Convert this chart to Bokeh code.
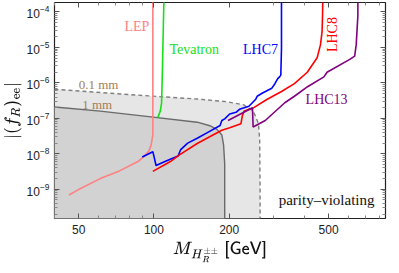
import numpy as np
from bokeh.plotting import figure
from bokeh.models import (Range1d, FixedTicker, LogTickFormatter, LogAxis,
                          CustomJSTickFormatter, Label, NumeralTickFormatter)
from bokeh.embed import file_html
from bokeh.resources import INLINE

# ---------------- data ----------------
x_ticks = [50, 100, 200, 500]
x_minor = [40, 60, 70, 80, 90, 300, 400, 600, 700, 800]
y_ticks = [1e-9, 1e-8, 1e-7, 1e-6, 1e-5, 1e-4]
y_minor = [m * 10.0 ** k for k in range(-10, -3) for m in range(2, 10)]

X_MIN, X_MAX = 40, 845
Y_MIN, Y_MAX = 1.5e-10, 1.85e-4

# decay length 0.1 mm boundary (dashed)
mm01_M = [40, 95.3, 149, 195, 229, 250, 262, 265, 266, 266]
mm01_f = [6.6e-7, 4.3e-7, 3.5e-7, 2.95e-7, 2.4e-7, 1.6e-7, 7.2e-8, 2.5e-8, 1e-9, 1.5e-10]
# decay length 1 mm boundary (solid)
mm1_M = [40, 61, 95.3, 149, 167.5, 178.6, 187, 190, 192, 192]
mm1_f = [2.1e-7, 1.6e-7, 1.12e-7, 7.8e-8, 6.2e-8, 4.9e-8, 3.4e-8, 1.8e-8, 5.2e-9, 1.5e-10]

lep_M = [99, 99, 97.5, 95.3, 91.2, 87.1, 72.8, 61, 49.5, 45.7]
lep_f = [2e-4, 3.4e-8, 1.8e-8, 1.17e-8, 8.5e-9, 6.3e-9, 3.3e-9, 2.0e-9, 9.5e-10, 6.9e-10]

tev_M = [109.6, 108.6, 107.9, 107.3, 106, 103.6]
tev_f = [2e-4, 9.5e-6, 1.2e-6, 2.7e-7, 1.6e-7, 1.05e-7]

lhc7_M = [89.8, 99, 102, 110.7, 124.9, 128, 136.5, 149, 163, 184, 187, 192, 201, 213,
          220, 240, 255, 259, 271, 287, 296.5, 305, 313, 319, 322, 324, 324]
lhc7_f = [8.1e-9, 1.15e-8, 4.7e-9, 6.1e-9, 8.7e-9, 1.32e-8, 2.0e-8, 2.74e-8, 3.9e-8, 6.3e-8,
          8.7e-8, 9.7e-8, 1.33e-7, 1.48e-7, 1.8e-7, 2.2e-7, 3.4e-7, 4.2e-7, 5.1e-7, 6.3e-7,
          7.1e-7, 9.5e-7, 1.32e-6, 1.5e-6, 1.66e-6, 9.5e-6, 2e-4]

lhc8_M = [99, 117.4, 126.5, 149, 187, 201, 223, 226, 230, 251, 283, 324, 365, 411, 450,
          464, 471, 473, 474]
lhc8_f = [3.2e-9, 6.3e-9, 9.3e-9, 1.95e-8, 4.6e-8, 5.4e-8, 7.1e-8, 1.2e-7, 1.62e-7, 2.0e-7,
          3.4e-7, 5.7e-7, 9.5e-7, 2.0e-6, 5.1e-6, 1.18e-5, 2.8e-5, 7.8e-5, 2e-4]

lhc13_M = [198, 248, 249.5, 279, 334, 365, 412, 479, 493, 608, 636, 645, 655, 655]
lhc13_f = [8.7e-8, 2.0e-7, 5.7e-8, 8.7e-8, 2.76e-7, 4.2e-7, 7.8e-7, 1.48e-6, 2.0e-6,
           4.6e-6, 5.7e-6, 1.18e-5, 7.8e-5, 2e-4]

# ---------------- figure ----------------
p = figure(width=391, height=265, x_axis_type="log", y_axis_type="log",
           x_range=Range1d(X_MIN, X_MAX), y_range=Range1d(Y_MIN, Y_MAX),
           output_backend="svg", toolbar_location=None,
           min_border_left=10, min_border_right=6, min_border_top=2, min_border_bottom=10)
p.grid.visible = False
p.outline_line_color = "#222222"
p.outline_line_width = 1.2
p.background_fill_color = "white"

# shaded regions
p.patch(mm01_M + [X_MIN], mm01_f + [Y_MIN], fill_color="#e6e6e6", line_color=None)
p.patch(mm1_M + [X_MIN], mm1_f + [Y_MIN], fill_color="#d2d2d2", line_color=None)
p.line(mm01_M, mm01_f, line_color="#808080", line_width=1.4, line_dash="4 3")
p.line(mm1_M, mm1_f, line_color="#6a6a6a", line_width=1.4)

# experimental limits
p.line(lep_M, lep_f, line_color="#ff8080", line_width=1.6)
p.line(tev_M, tev_f, line_color="#18e018", line_width=1.6)
p.line(lhc7_M, lhc7_f, line_color="#0000ff", line_width=1.6)
p.line(lhc8_M, lhc8_f, line_color="#ff0000", line_width=1.6)
p.line(lhc13_M, lhc13_f, line_color="#800080", line_width=1.6)

serif = "Liberation Serif"
def lab(x, y, t, c, angle=0.0, size="14px"):
    p.add_layout(Label(x=x, y=y, text=t, text_color=c, text_font=serif,
                       text_font_size=size, text_align="center",
                       text_baseline="middle", angle=angle))

lab(85.5, 3.8e-5, "LEP", "#ff8080")
lab(145, 8.5e-6, "Tevatron", "#18e018")
lab(267, 8.5e-6, "LHC7", "#0000ff")
lab(519, 2.3e-5, "LHC8", "#ff0000", angle=np.pi / 2)
lab(491, 3.5e-7, "LHC13", "#800080")
lab(60, 8.9e-7, "0.1 mm", "#a67c52", size="13px")
lab(59.3, 2.5e-7, "1 mm", "#a67c52", size="13px")
lab(491, 5.1e-10, "parity\u2013violating", "#111111", size="15px")

# axes
def style_axis(ax):
    ax.axis_line_color = None
    ax.major_tick_in = 5
    ax.major_tick_out = 0
    ax.minor_tick_in = 3
    ax.minor_tick_out = 0
    ax.major_tick_line_color = "#555555"
    ax.minor_tick_line_color = "#888888"
    ax.major_label_text_font = "Liberation Sans"
    ax.major_label_text_font_size = "12px"
    ax.major_label_text_color = "#222222"
    ax.axis_label_text_font = "Liberation Sans"
    ax.axis_label_text_font_style = "normal"
    ax.axis_label_text_font_size = "14px"
    ax.axis_label_text_color = "#111111"

xt = FixedTicker(ticks=x_ticks, minor_ticks=x_minor)
yt = FixedTicker(ticks=y_ticks, minor_ticks=y_minor)

xa = p.xaxis[0]
xa.ticker = xt
xa.formatter = NumeralTickFormatter(format="0")
xa.axis_label = r"$$M_{H_R^{\pm\pm}}\;\mathsf{[GeV]}$$"
xa.major_label_standoff = 6
xa.axis_label_standoff = 4
style_axis(xa)

ya = p.yaxis[0]
ya.ticker = yt
ya.formatter = LogTickFormatter()
ya.axis_label = r"$$|(f_R)_{\rm ee}|$$"
ya.major_label_standoff = 5
ya.axis_label_standoff = 2
style_axis(ya)

ra = LogAxis(ticker=yt, formatter=CustomJSTickFormatter(code="return ''"))
style_axis(ra)
ra.major_label_standoff = 0
p.add_layout(ra, "right")
ta = LogAxis(ticker=xt, formatter=CustomJSTickFormatter(code="return ''"))
style_axis(ta)
ta.major_label_standoff = 0
p.add_layout(ta, "above")

open("out.html", "w").write(file_html(p, INLINE))
